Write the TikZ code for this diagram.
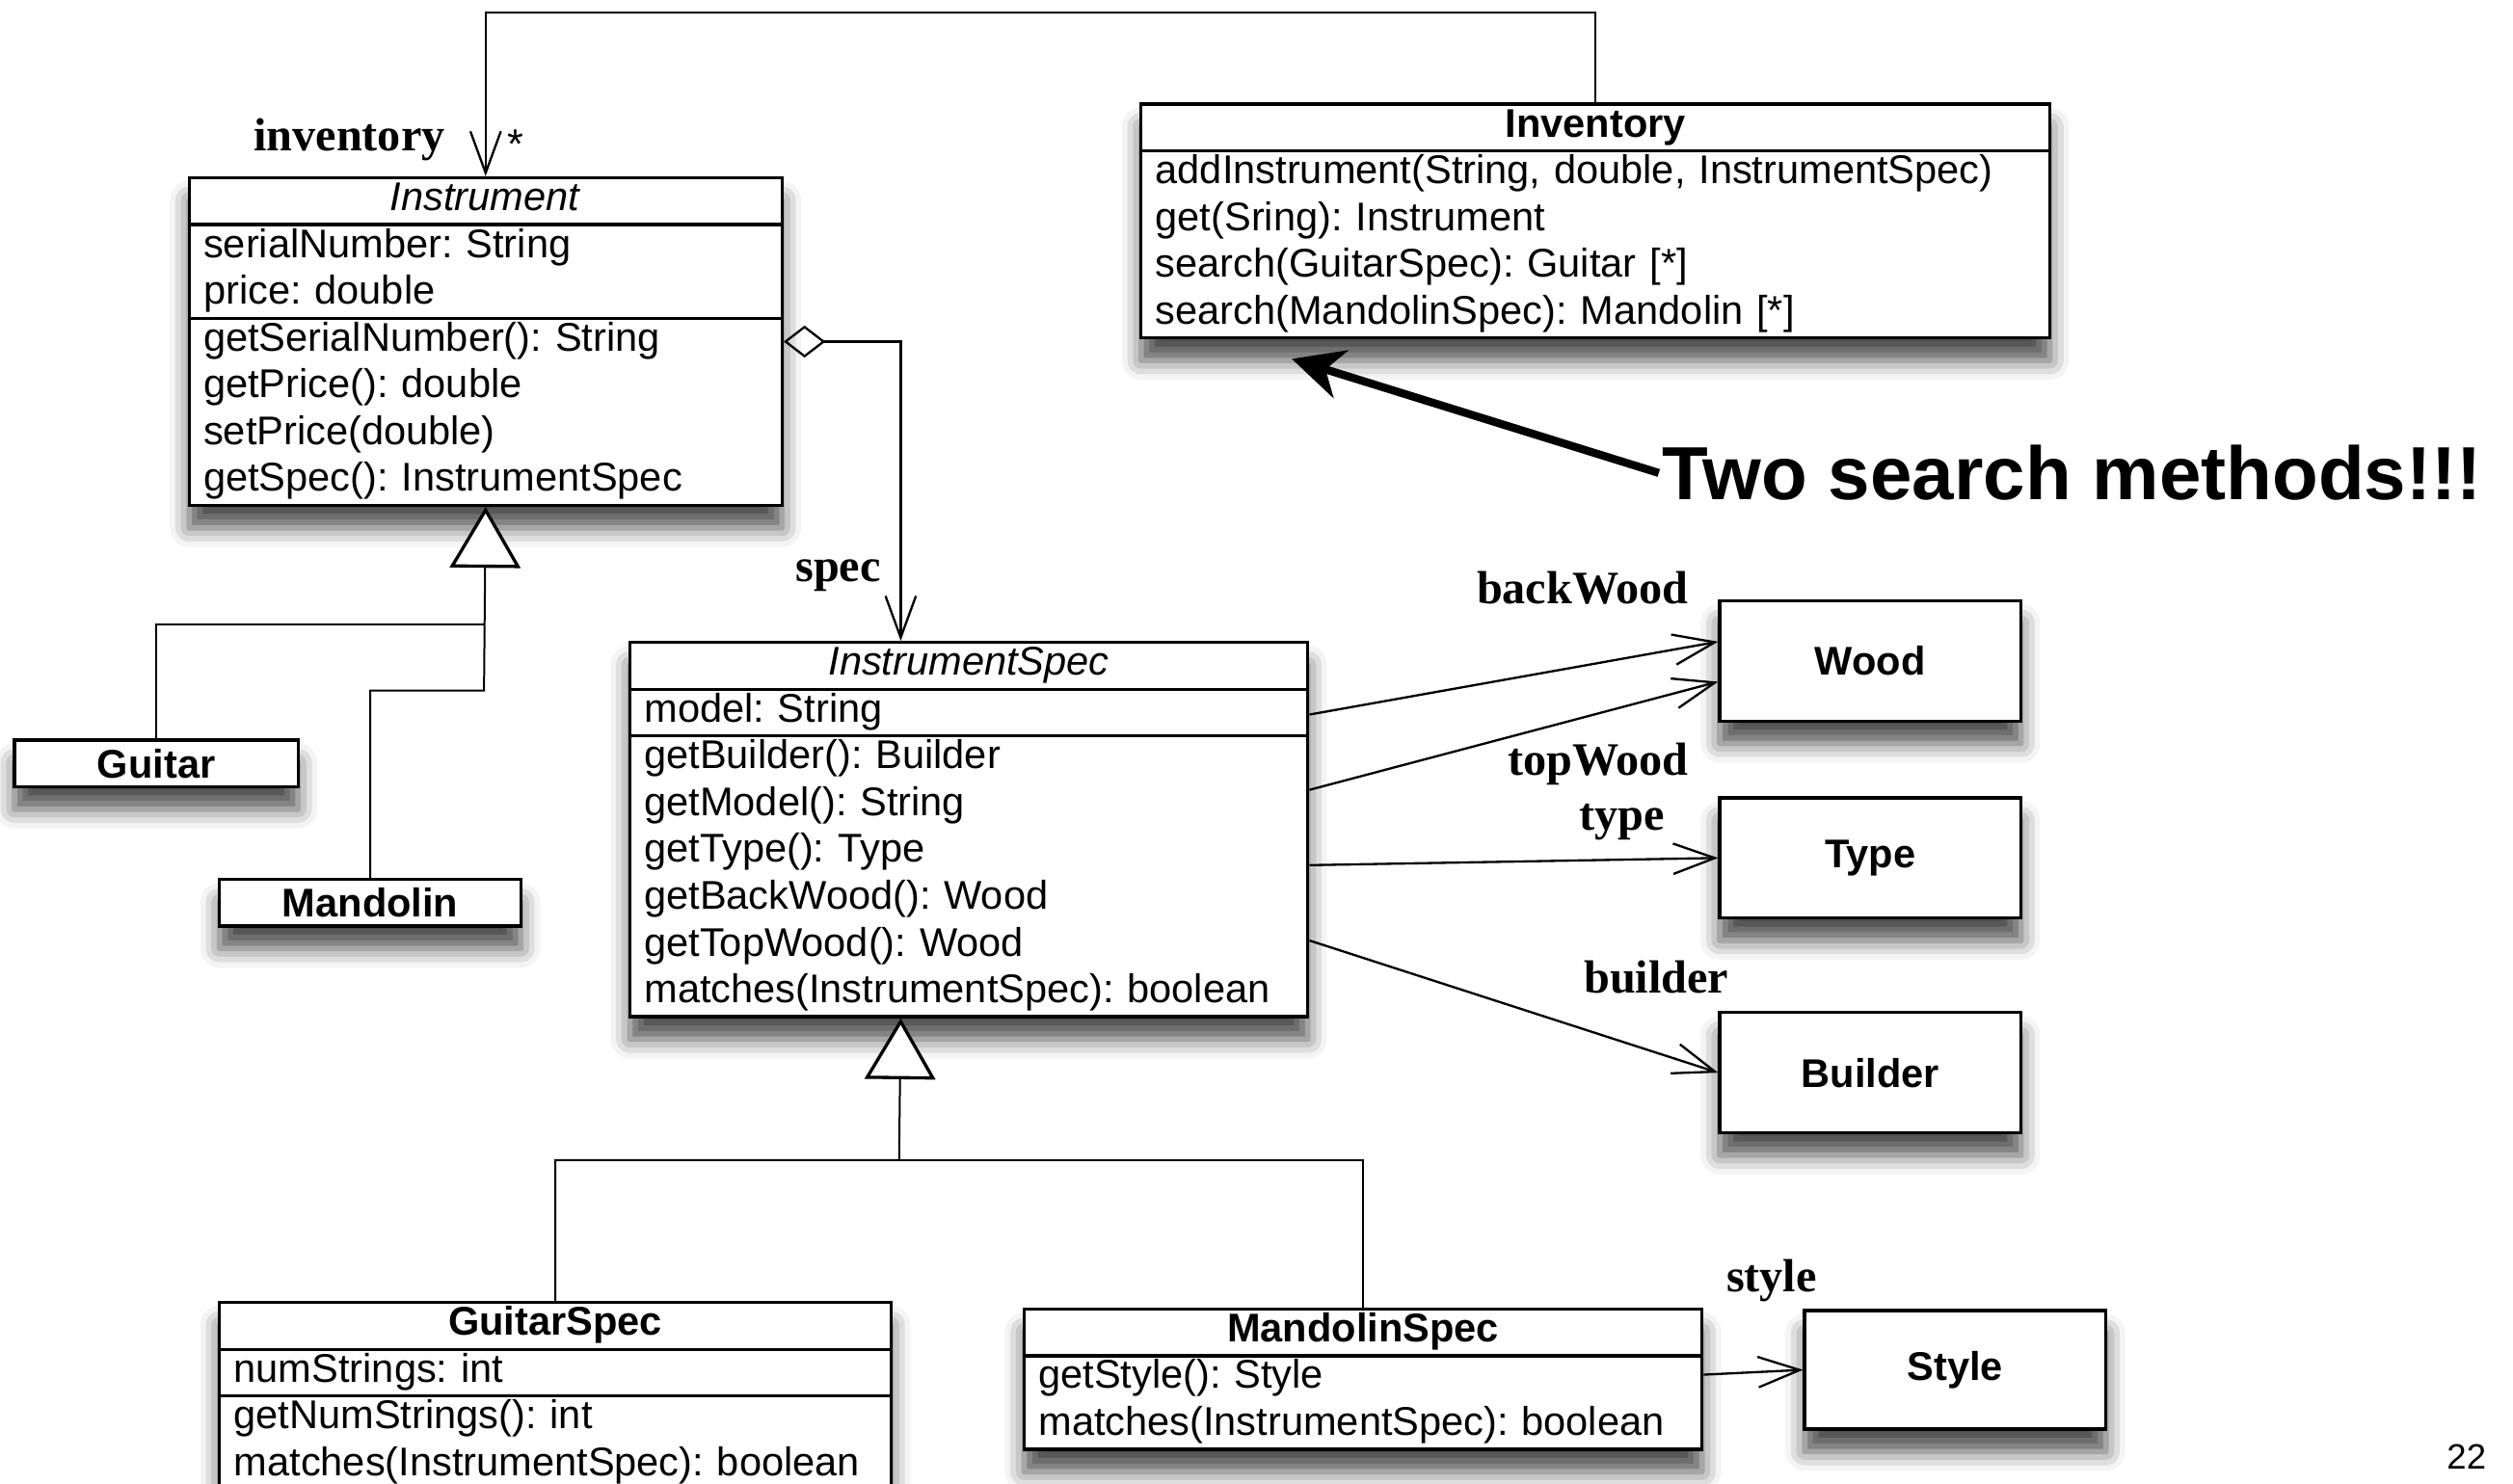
\documentclass[tikz,border=0pt]{standalone}
\usepackage{fontspec}
\setmainfont{Liberation Sans}
\newfontfamily\rolefamily{Liberation Serif}
\usetikzlibrary{arrows.meta,shapes.multipart,shadows.blur,calc}
\frenchspacing

\begin{document}
\begin{tikzpicture}[x=0.5pt, y=-0.5pt,
    boxshadow/.style={blur shadow={shadow xshift=0pt, shadow yshift=-7pt, shadow blur radius=6pt, shadow opacity=70}},
    umlclass/.style={rectangle split, draw, line width=1pt, fill=white, anchor=north west, inner xsep=4.5pt, inner ysep=-0.5pt, align=left, font=\fontsize{12.5}{14.6}\selectfont, boxshadow},
    classbox/.style={draw, line width=1pt, fill=white, inner sep=0pt, font=\fontsize{12.5}{14.6}\selectfont\bfseries, boxshadow},
    role/.style={inner sep=0pt, font=\rolefamily\bfseries\fontsize{14.5}{16}\selectfont},
    assoc/.style={line width=0.7pt, -{Straight Barb[length=13pt, width=9.5pt]}},
    inherit/.style={line width=0.6pt, -{Triangle[length=19pt, width=22pt, fill=white, line width=1pt]}},
  ]
      \useasboundingbox (0,0) rectangle (1568,926);

      \node[umlclass, rectangle split parts=3, text width=176pt] (instr) at (117,110)
        {\hfill\strut\textit{Instrument}\hfill\null
         \nodepart{two}\strut serialNumber: String\\\strut price: double
         \nodepart{three}\strut getSerialNumber(): String\\\strut getPrice(): double\\\strut setPrice(double)\\\strut getSpec(): InstrumentSpec};
      \node[umlclass, rectangle split parts=2, text width=274.5pt] (inv) at (711,64)
        {\hfill\strut\textbf{Inventory}\hfill\null
         \nodepart{two}\strut addInstrument(String, double, InstrumentSpec)\\\strut get(Sring): Instrument\\\strut search(GuitarSpec): Guitar [*]\\\strut search(MandolinSpec): Mandolin [*]};
      \node[umlclass, rectangle split parts=3, text width=202.5pt] (ispec) at (392,400)
        {\hfill\strut\textit{InstrumentSpec}\hfill\null
         \nodepart{two}\strut model: String
         \nodepart{three}\strut getBuilder(): Builder\\\strut getModel(): String\\\strut getType(): Type\\\strut getBackWood(): Wood\\\strut getTopWood(): Wood\\\strut matches(InstrumentSpec): boolean};
      \node[umlclass, rectangle split parts=3, text width=200.5pt] (gspec) at (136,812)
        {\hfill\strut\textbf{GuitarSpec}\hfill\null
         \nodepart{two}\strut numStrings: int
         \nodepart{three}\strut getNumStrings(): int\\\strut matches(InstrumentSpec): boolean};
      \node[umlclass, rectangle split parts=2, text width=202.5pt] (mspec) at (638,816)
        {\hfill\strut\textbf{MandolinSpec}\hfill\null
         \nodepart{two}\strut getStyle(): Style\\\strut matches(InstrumentSpec): boolean};

      \node[classbox, minimum width=88.5pt, minimum height=14.5pt] (guitar) at (97.5,476.5) {Guitar};
      \node[classbox, minimum width=94pt, minimum height=14.5pt] (mandolin) at (231,563.5) {Mandolin};
      \node[classbox, minimum width=94pt, minimum height=37.5pt] (wood) at (1167,412.5) {Wood};
      \node[classbox, minimum width=94pt, minimum height=37.5pt] (type) at (1167,535.5) {Type};
      \node[classbox, minimum width=94pt, minimum height=37.5pt] (builder) at (1167,669.5) {Builder};
      \node[classbox, minimum width=94pt, minimum height=37pt] (style) at (1220,855) {Style};

      \coordinate (top) at (0,8);
      \coordinate (jg) at (302,390);
      \coordinate (jm) at (302,431);
      \coordinate (js) at (561,724);
      \coordinate (hint) at (806,224);

      \draw[assoc] (inv.north) -- (inv.north |- top) -| (instr.north);
      \draw[line width=0.7pt, {Diamond[open, length=13pt, width=10pt]}-{Straight Barb[length=13pt, width=9.5pt]}] (instr.east) -| ($(ispec.north west)!0.4!(ispec.north east)$);
      \draw[inherit] (mandolin.north) |- (jm) -- (instr.south);
      \draw[line width=0.6pt] (guitar.north) |- (jg);
      \draw[inherit] (gspec.north) |- (js) -- ($(ispec.south west)!0.4!(ispec.south east)$);
      \draw[line width=0.6pt] (mspec.north) |- (js);
      \draw[assoc] ($(ispec.north east)+(0,46)$) -- ($(wood.west)+(0,-12)$);
      \draw[assoc] ($(ispec.north east)+(0,93)$) -- ($(wood.west)+(0,13)$);
      \draw[assoc] ($(ispec.north east)+(0,140)$) -- (type.west);
      \draw[assoc] ($(ispec.north east)+(0,187)$) -- (builder.west);
      \draw[assoc] ($(mspec.north east)+(0,42)$) -- (style.west);

      \node[role, anchor=base west] (invlabel) at (158,94) {inventory};
      \node[inner sep=0pt, font=\fontsize{13}{14}\selectfont, anchor=base] (mult) at (321.5,99) {*};
      \node[role, anchor=base east] (speclabel) at (550,363) {spec};
      \node[role, anchor=base east] (backlabel) at (1054,377) {backWood};
      \node[role, anchor=base east] (toplabel) at (1054,484) {topWood};
      \node[role, anchor=base east] (typelabel) at (1039,518) {type};
      \node[role, anchor=base east] (builderlabel) at (1079,620) {builder};
      \node[role, anchor=base east] (stylelabel) at (1134,806) {style};

      \node[anchor=base west, inner sep=1pt, font=\fontsize{23.5}{28}\selectfont\bfseries] (callout) at (1035,312) {Two search methods!!!};
      \draw[line width=2.5pt, -{Stealth[length=16pt, width=15.5pt, inset=5pt]}] (callout.west) -- (hint);

      \node[font=\fontsize{11}{13}\selectfont] (page) at (1539,909) {22};
    \end{tikzpicture}
\end{document}
